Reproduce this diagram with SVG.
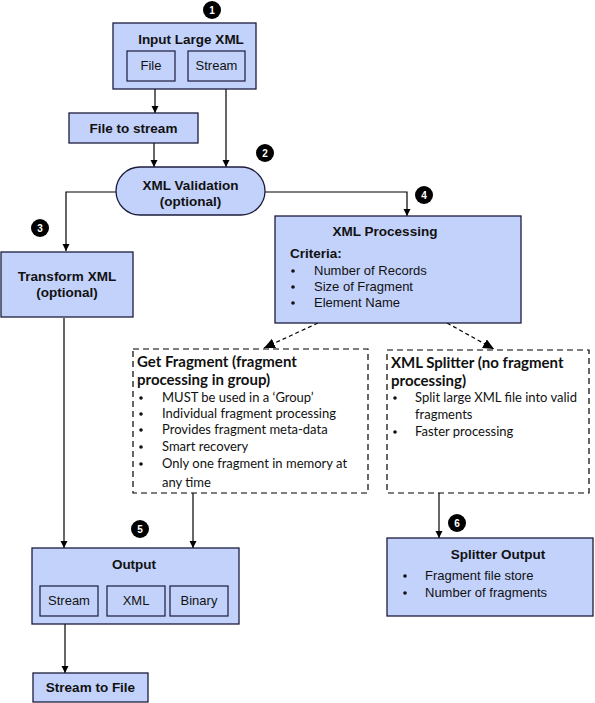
<svg xmlns="http://www.w3.org/2000/svg" width="595" height="703" viewBox="0 0 595 703">
<defs>
<marker id="ah" markerWidth="8" markerHeight="8" refX="7" refY="4" orient="auto" markerUnits="userSpaceOnUse">
<path d="M0,0.5 L7,4 L0,7.5 Z" fill="#000"/>
</marker>
<marker id="ahd" markerWidth="12" markerHeight="10" refX="11" refY="5" orient="auto" markerUnits="userSpaceOnUse">
<path d="M0,0 L11,5 L0,10 Z" fill="#000"/>
</marker>
</defs>
<style>
.box{fill:#c3d2fb;stroke:#1c1c3c;stroke-width:1.3}
.inner{fill:#c3d2fb;stroke:#1c1c3c;stroke-width:1.2}
.dash{fill:#fff;stroke:#000;stroke-width:1.2;stroke-dasharray:6,4}
.t{font-family:"Liberation Sans",Arial,sans-serif;font-size:13px;fill:#111}
.b{font-family:"Liberation Sans",Arial,sans-serif;font-size:13.5px;font-weight:bold;fill:#111}
.c{font-family:Lato,"Open Sans",sans-serif;font-size:13px;fill:#111}
.cb{font-family:Lato,"Open Sans",sans-serif;font-size:15px;font-weight:bold;fill:#111}
.m{text-anchor:middle}
.ln{fill:none;stroke:#000;stroke-width:1.2}
.badge{fill:#000}
.bt{font-family:"Liberation Sans",Arial,sans-serif;font-size:10px;font-weight:bold;fill:#fff;text-anchor:middle}
</style>
<rect width="595" height="703" fill="#fff"/>
<g id="connectors">
<line class="ln" x1="155" y1="89" x2="155" y2="113" marker-end="url(#ah)"/>
<line class="ln" x1="226" y1="89" x2="226" y2="167" marker-end="url(#ah)"/>
<line class="ln" x1="154" y1="143" x2="154" y2="167" marker-end="url(#ah)"/>
<polyline class="ln" points="116,192 66,192 66,251" marker-end="url(#ah)"/>
<polyline class="ln" points="265,192 407,192 407,216" marker-end="url(#ah)"/>
<line class="ln" x1="318" y1="323" x2="264" y2="348" stroke-dasharray="4,3" marker-end="url(#ahd)"/>
<line class="ln" x1="447" y1="323" x2="494" y2="349" stroke-dasharray="4,3" marker-end="url(#ahd)"/>
<line class="ln" x1="64" y1="318" x2="64" y2="548" marker-end="url(#ah)"/>
<line class="ln" x1="193" y1="493" x2="193" y2="548" marker-end="url(#ah)"/>
<line class="ln" x1="65" y1="624" x2="65" y2="673" marker-end="url(#ah)"/>
<line class="ln" x1="439" y1="493" x2="439" y2="538" marker-end="url(#ah)"/>
</g>
<g id="input-large-xml">
<rect class="box" x="113" y="23" width="143" height="66"/>
<text class="b m" x="191" y="44">Input Large XML</text>
<rect class="inner" x="127" y="51" width="48" height="30"/>
<text class="t m" x="151" y="70">File</text>
<rect class="inner" x="188" y="51" width="57" height="30"/>
<text class="t m" x="216.5" y="70">Stream</text>
</g>
<g id="badge1"><circle class="badge" cx="212" cy="10" r="9"/><text class="bt" x="212" y="14">1</text></g>
<g id="file-to-stream">
<rect class="box" x="69" y="113" width="129" height="30"/>
<text class="b m" x="133.5" y="133">File to stream</text>
</g>
<g id="xml-validation">
<rect class="box" x="116" y="167" width="149" height="48" rx="24" ry="24"/>
<text class="b m" x="190.5" y="190">XML Validation</text>
<text class="b m" x="190.5" y="206">(optional)</text>
</g>
<g id="badge2"><circle class="badge" cx="265" cy="153" r="9"/><text class="bt" x="265" y="157">2</text></g>
<g id="transform-xml">
<rect class="box" x="1" y="252" width="132" height="65"/>
<text class="b m" x="67" y="281">Transform XML</text>
<text class="b m" x="67" y="297">(optional)</text>
</g>
<g id="badge3"><circle class="badge" cx="40" cy="228" r="9"/><text class="bt" x="40" y="232">3</text></g>
<g id="xml-processing">
<rect class="box" x="275" y="216" width="246" height="107"/>
<text class="b m" x="385" y="236">XML Processing</text>
<text class="b" x="290" y="258">Criteria:</text>
<circle cx="293" cy="271" r="1.8" fill="#111"/>
<circle cx="293" cy="287" r="1.8" fill="#111"/>
<circle cx="293" cy="303" r="1.8" fill="#111"/>
<text class="t" x="314" y="275">Number of Records</text>
<text class="t" x="314" y="291">Size of Fragment</text>
<text class="t" x="314" y="307">Element Name</text>
</g>
<g id="badge4"><circle class="badge" cx="424" cy="195" r="9"/><text class="bt" x="424" y="199">4</text></g>
<g id="get-fragment">
<rect class="dash" x="133" y="349" width="235" height="144"/>
<text class="cb" x="137" y="367">Get Fragment (fragment</text>
<text class="cb" x="137" y="385">processing in group)</text>
<circle cx="141" cy="398" r="1.8" fill="#111"/>
<circle cx="141" cy="414" r="1.8" fill="#111"/>
<circle cx="141" cy="430" r="1.8" fill="#111"/>
<circle cx="141" cy="447" r="1.8" fill="#111"/>
<circle cx="141" cy="464" r="1.8" fill="#111"/>
<text class="c" x="162" y="402">MUST be used in a ‘Group’</text>
<text class="c" x="162" y="418">Individual fragment processing</text>
<text class="c" x="162" y="434">Provides fragment meta-data</text>
<text class="c" x="162" y="451">Smart recovery</text>
<text class="c" x="162" y="468">Only one fragment in memory at</text>
<text class="c" x="162" y="487">any time</text>
</g>
<g id="xml-splitter">
<rect class="dash" x="387" y="350" width="202" height="143"/>
<text class="cb" x="391" y="368">XML Splitter (no fragment</text>
<text class="cb" x="391" y="386">processing)</text>
<circle cx="395" cy="398" r="1.8" fill="#111"/>
<circle cx="395" cy="432" r="1.8" fill="#111"/>
<text class="c" x="415" y="402">Split large XML file into valid</text>
<text class="c" x="415" y="419">fragments</text>
<text class="c" x="415" y="436">Faster processing</text>
</g>
<g id="output">
<rect class="box" x="32" y="548" width="207" height="76"/>
<text class="b m" x="134" y="569">Output</text>
<rect class="inner" x="40" y="586" width="58" height="30"/>
<text class="t m" x="69" y="605">Stream</text>
<rect class="inner" x="107" y="586" width="58" height="30"/>
<text class="t m" x="136" y="605">XML</text>
<rect class="inner" x="170" y="586" width="58" height="30"/>
<text class="t m" x="199" y="605">Binary</text>
</g>
<g id="badge5"><circle class="badge" cx="140" cy="529" r="9"/><text class="bt" x="140" y="533">5</text></g>
<g id="stream-to-file">
<rect class="box" x="33" y="673" width="115" height="29"/>
<text class="b m" x="90.5" y="692">Stream to File</text>
</g>
<g id="splitter-output">
<rect class="box" x="387" y="538" width="206" height="78"/>
<text class="b m" x="498" y="559">Splitter Output</text>
<circle cx="405" cy="576" r="1.8" fill="#111"/>
<circle cx="405" cy="593" r="1.8" fill="#111"/>
<text class="t" x="425" y="580">Fragment file store</text>
<text class="t" x="425" y="597">Number of fragments</text>
</g>
<g id="badge6"><circle class="badge" cx="457" cy="523" r="9"/><text class="bt" x="457" y="527">6</text></g>
</svg>
